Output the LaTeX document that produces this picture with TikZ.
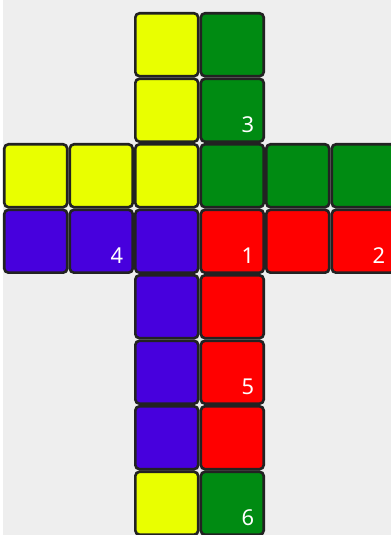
\documentclass[tikz,border=0pt]{standalone}
\usepackage{fontspec}
\setmainfont{Noto Sans}
\usepackage{xcolor}
\usepackage{tikz}
\usetikzlibrary{positioning}

\definecolor{cubebg}{HTML}{EEEEEE}
\definecolor{cubeline}{HTML}{222222}
\definecolor{cubeyellow}{HTML}{E9FF00}
\definecolor{cubegreen}{HTML}{008B12}
\definecolor{cubepurple}{HTML}{4700DD}
\definecolor{cubered}{HTML}{FF0000}

\begin{document}
\begin{tikzpicture}[
    x=1cm, y=-1cm,
    cell/.style={rectangle, draw=cubeline, line width=1.15pt, rounded corners=1.8pt,
                 minimum size=0.96cm, inner sep=0pt, outer sep=0pt},
    yel/.style={cell, fill=cubeyellow},
    grn/.style={cell, fill=cubegreen},
    pur/.style={cell, fill=cubepurple},
    rd/.style={cell, fill=cubered},
    num/.style={text=white, font=\fontsize{9.5}{11}\selectfont, inner sep=0pt,
                anchor=center, xshift=-0.24cm, yshift=0.26cm}
]

% Background
\fill[white] (0,0) rectangle (5.969,8.168);
\clip (0,0) rectangle (5.969,8.168);
\fill[cubebg] (0.046,0) rectangle (5.969,8.168);

% Upper arm
\node[yel] (u1) at (2.546, 0.683) {};
\node[grn] (u2) at (3.546, 0.683) {};
\node[yel] (u3) at (2.546, 1.683) {};
\node[grn] (u4) at (3.546, 1.683) {};

% Cross bar, top row
\node[yel] (t0) at (0.546, 2.683) {};
\node[yel] (t1) at (1.546, 2.683) {};
\node[yel] (t2) at (2.546, 2.683) {};
\node[grn] (t3) at (3.546, 2.683) {};
\node[grn] (t4) at (4.546, 2.683) {};
\node[grn] (t5) at (5.546, 2.683) {};

% Cross bar, bottom row
\node[pur] (b0) at (0.546, 3.683) {};
\node[pur] (b1) at (1.546, 3.683) {};
\node[pur] (b2) at (2.546, 3.683) {};
\node[rd]  (b3) at (3.546, 3.683) {};
\node[rd]  (b4) at (4.546, 3.683) {};
\node[rd]  (b5) at (5.546, 3.683) {};

% Lower arm
\node[pur] (l1) at (2.546, 4.683) {};
\node[rd]  (l2) at (3.546, 4.683) {};
\node[pur] (l3) at (2.546, 5.683) {};
\node[rd]  (l4) at (3.546, 5.683) {};
\node[pur] (l5) at (2.546, 6.683) {};
\node[rd]  (l6) at (3.546, 6.683) {};
\node[yel] (l7) at (2.546, 7.683) {};
\node[grn] (l8) at (3.546, 7.683) {};

% Numbers
\node[num] (n1) at (b3.south east) {1};
\node[num] (n2) at (b5.south east) {2};
\node[num] (n3) at (u4.south east) {3};
\node[num] (n4) at (b1.south east) {4};
\node[num] (n5) at (l4.south east) {5};
\node[num] (n6) at (l8.south east) {6};

\end{tikzpicture}
\end{document}
